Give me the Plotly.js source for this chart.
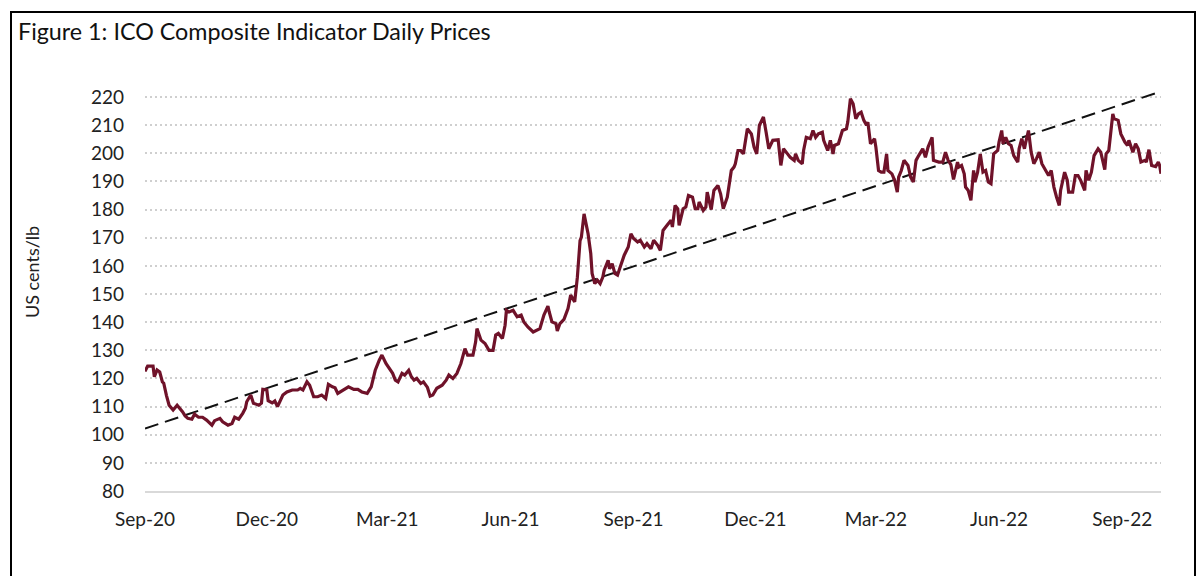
<!DOCTYPE html>
<html>
<head>
<meta charset="utf-8">
<script src="https://cdn.plot.ly/plotly-3.0.1.min.js"></script>
<style>
  html, body { margin: 0; padding: 0; background: #fff; }
  #chart { width: 1200px; height: 576px; }
</style>
</head>
<body>
<div id="chart"></div>
<script>
// ---- data ----
const startDate = '2020-09-01';
const daysSinceStart = [
  0,2,6,7,9,11,13,14,16,18,21,24,28,30,32,35,37,40,43,46,50,52,56,58,62,65,67,70,73,75,76,79,81,85,87,88,91,92,95,97,99,101,103,106,110,114,116,118,121,123,126,129,132,135,137,140,142,144,148,152,156,159,162,166,169,172,175,177,180,182,185,187,189,192,194,197,199,201,203,206,208,211,213,215,218,222,225,227,230,233,236,239,241,245,247,248,251,254,257,260,262,264,267,269,270,272,275,278,281,283,286,290,293,295,298,301,302,304,307,308,310,313,316,318,321,323,325,326,328,330,331,333,334,336,338,340,342,343,346,347,349,351,353,355,358,361,363,365,368,370,373,375,378,380,383,385,387,390,393,394,396,398,399,402,404,406,409,411,413,414,417,419,420,423,425,428,430,432,435,438,440,441,443,445,447,450,453,455,457,459,461,462,464,466,469,473,475,477,480,482,485,486,488,491,492,494,497,499,501,503,506,507,510,512,514,515,518,521,524,525,527,529,531,533,535,537,539,540,542,545,546,548,550,552,554,555,558,560,562,563,565,567,570,572,574,576,578,581,583,585,588,589,593,596,598,600,602,604,607,608,610,612,613,615,617,619,620,622,624,626,628,630,632,634,637,638,640,641,643,645,647,649,652,653,655,657,658,660,662,664,666,668,670,672,675,677,679,681,683,684,687,689,690,693,695,697,699,702,703,705,707,709,712,714,717,718,720,723,724,727,729,732,734,735,738,740,742,744,747,748,750,752,755,757,758,759
];
const compositePrice = [
  122.5,124.4,124.4,120.6,123,122.3,118.8,118.3,114,110.5,108.8,110.5,108.2,106.7,105.8,105.5,107.3,106.2,106.2,105.2,103.4,105,105.8,104.6,103.4,104,106.2,105.5,107.6,109.4,111.7,114.1,111.2,110.5,111.2,116.1,115.9,112.1,111.3,112,110,112.3,114.1,115.2,115.9,115.9,116.5,115.9,118.8,117.6,113.5,113.5,114.1,112.9,117.9,117,116.7,114.7,115.9,117,116.1,116.1,115.2,114.7,117,122.9,126.5,128.3,125.3,123.9,121.8,119.4,118.8,121.8,121.2,122.9,120.6,119.4,120,118.2,118.8,116.8,113.7,114.1,116.5,117.6,119.4,121.2,120,121.8,125.3,130.6,128.3,128.3,133,137.7,133.6,132.4,130,130,135.4,136,134.2,138.9,144.2,143.6,144.2,141.9,142.5,140.1,138.3,136.5,137.1,137.7,142.5,145.7,143.6,140.1,139.5,136.9,139.5,141,144.8,149.6,147.2,156,169,170.2,178.5,173.8,171.4,164.4,157.3,153.7,154.9,153.7,156,158.4,162,159,160.8,157.3,156.7,159.6,163.8,166.7,171.4,169.7,168.5,169.1,166.7,167.9,166.1,169.1,167.3,165.5,172.6,174.4,176.2,173.8,181.5,180.3,174.4,180.3,180.9,185,184.4,180.3,180.3,182.7,179.7,180.9,186.2,180,186.8,188.6,185.6,180.3,184.4,193.9,195.1,196.3,201,201,199.8,208.7,206.9,202.2,199.8,210,211.7,212.9,207.5,201.6,204.6,204.8,195.7,201.6,199.8,198.6,197.5,199.8,197.5,196.3,201,205.7,205.2,208.1,205.7,206.9,207.5,204.6,201,204.6,199.8,202.8,203.4,208.1,208.7,211.1,219.4,217.6,212.3,214,214.6,211.7,210,211.1,203.4,205.2,202.2,193.9,193.3,193.3,199.8,193.9,192.7,190.4,186.2,191.5,193.9,197.5,195.7,191.5,189.8,197.5,199.2,201.6,198.6,202.2,205.7,197.5,196.9,196.9,200.4,197.5,196,190.7,196.9,195.1,195.7,192.7,188,186.8,183.3,193.9,189.8,193.3,199.8,193.3,193.9,189.8,189.2,199.8,201,204,208.1,203.4,205.7,203.4,202.8,199.2,196.9,201.6,205.2,201.6,204,208.1,200.4,196.3,198.1,200.4,196.3,194.5,192.1,193.9,188,184.4,181.5,186.8,193.3,190.4,186.2,186.2,192.1,192.1,190.4,186.8,193.9,190.4,193.3,199.2,201.6,200.4,194.2,199.8,201,214,212.3,211.7,206.9,204,202.8,204.6,200.4,203.4,201.6,196.9,197.5,196.9,201.3,195.7,195.3,196.9,195.7,192.7
];
const trendDates = ['2020-09-01', '2022-09-30'];
const trendValues = [102.2, 222];
const tickDates = ['2020-09-01','2020-12-01','2021-03-01','2021-06-01','2021-09-01','2021-12-01','2022-03-01','2022-06-01','2022-09-01'];
const tickLabels = ['Sep-20','Dec-20','Mar-21','Jun-21','Sep-21','Dec-21','Mar-22','Jun-22','Sep-22'];
const yTicks = [80,90,100,110,120,130,140,150,160,170,180,190,200,210,220];

// ---- build dates ----
function addDays(iso, n) {
  const d = new Date(iso + 'T00:00:00Z');
  d.setUTCDate(d.getUTCDate() + n);
  return d.toISOString().slice(0, 10);
}
const priceDates = daysSinceStart.map(n => addDays(startDate, n));

const FONT = 'Lato, "Open Sans", sans-serif';

const traces = [
  {
    x: trendDates, y: trendValues, type: 'scatter', mode: 'lines',
    line: { color: '#111111', width: 2, dash: '14px,7px' },
    hoverinfo: 'skip', showlegend: false
  },
  {
    x: priceDates, y: compositePrice, type: 'scatter', mode: 'lines',
    line: { color: '#6f1229', width: 3.2 },
    name: 'ICO Composite Indicator', showlegend: false
  }
];

// plot box in pixels: 220 gridline at y=97, 80 axis at y=491; range top extended to 222.5
const L = 145, R = 1161, B = 491, T = 90;
const px = v => (v - L) / (R - L);
const py = v => (B - v) / (B - T);

const layout = {
  width: 1200, height: 576,
  margin: { l: L, r: 1200 - R, t: T, b: 576 - B },
  paper_bgcolor: '#ffffff', plot_bgcolor: '#ffffff',
  font: { family: FONT, color: '#222222', size: 19 },
  title: {
    text: 'Figure 1: ICO Composite Indicator Daily Prices',
    font: { family: FONT, size: 23.3, color: '#111111' },
    x: 18 / 1200, xref: 'container', xanchor: 'left',
    y: 1 - 32 / 576, yref: 'container', yanchor: 'middle'
  },
  xaxis: {
    type: 'date',
    range: ['2020-09-01', '2022-09-30'],
    tickmode: 'array', tickvals: tickDates, ticktext: tickLabels,
    showgrid: false, zeroline: false,
    showline: true, linecolor: '#d9d9d9', linewidth: 2,
    ticks: '', ticklabelstandoff: 10,
    tickfont: { family: FONT, size: 19, color: '#222222' }
  },
  yaxis: {
    range: [80, 222.5],
    tickmode: 'array', tickvals: yTicks,
    showgrid: true, gridcolor: '#cfcfcf', gridwidth: 2, griddash: '2px,3px',
    zeroline: false, showline: false, ticks: '', ticklabelstandoff: 20,
    tickfont: { family: FONT, size: 19, color: '#222222' }
  },
  annotations: [
    {
      text: 'US cents/lb', textangle: -90, showarrow: false,
      xref: 'paper', yref: 'paper', x: px(32), y: py(272),
      xanchor: 'center', yanchor: 'middle',
      font: { family: FONT, size: 18, color: '#222222' }
    }
  ],
  shapes: [
    { type: 'line', xref: 'paper', yref: 'paper', x0: px(11), x1: px(11), y0: py(12), y1: py(590), line: { color: '#000', width: 2 } },
    { type: 'line', xref: 'paper', yref: 'paper', x0: px(10), x1: px(1196), y0: py(12), y1: py(12), line: { color: '#000', width: 2 } },
    { type: 'line', xref: 'paper', yref: 'paper', x0: px(1195), x1: px(1195), y0: py(12), y1: py(590), line: { color: '#000', width: 2 } }
  ]
};

Plotly.newPlot('chart', traces, layout, { displayModeBar: false, staticPlot: true });
</script>
</body>
</html>
